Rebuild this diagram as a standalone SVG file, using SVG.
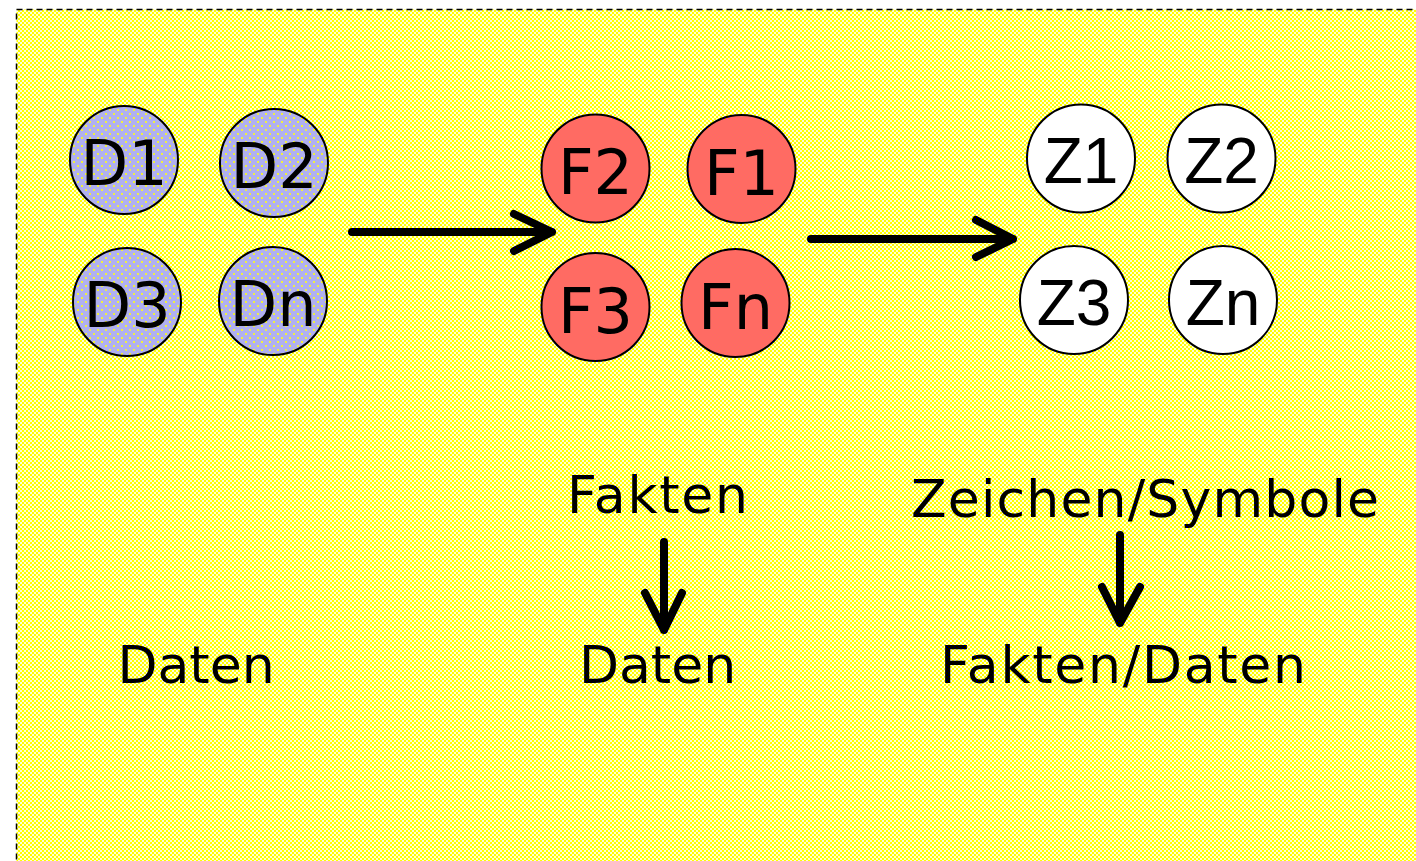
<svg xmlns="http://www.w3.org/2000/svg" width="1416" height="861" viewBox="0 0 1416 861">
<defs>
<pattern id="bg" width="4" height="4" patternUnits="userSpaceOnUse">
<rect width="4" height="4" fill="#ffffd8"/>
<rect x="0" y="0" width="2" height="2" fill="#ffff00"/>
<rect x="2" y="2" width="2" height="2" fill="#ffff00"/>
</pattern>
<pattern id="dots" width="8" height="8" patternUnits="userSpaceOnUse">
<rect width="8" height="8" fill="#b0b0f0"/>
<rect x="1" y="1" width="2" height="2" fill="#f0f040"/>
<rect x="5" y="5" width="2" height="2" fill="#f0f040"/>
</pattern>
</defs>
<style>
.n circle{stroke:#000;stroke-width:2}
.d circle{fill:url(#dots)}
.f circle{fill:#ff6b63}
.z circle{fill:#fff}
.lbl{font-family:"DejaVu Sans",Verdana,sans-serif;font-size:62px;text-anchor:middle;fill:#000}
.zl{font-family:"Liberation Sans",Arial,sans-serif;font-size:64px;text-anchor:middle;fill:#000}
.cap{font-family:"DejaVu Sans",Verdana,sans-serif;font-size:52px;text-anchor:middle;fill:#000}
.arr{fill:none;stroke:#000;stroke-width:8;stroke-linecap:round;stroke-linejoin:round}
</style>
<rect x="16.5" y="9.5" width="1420" height="870" fill="url(#bg)" stroke="#000" stroke-width="1.5" stroke-dasharray="6 4"/>

<g id="D1" class="n d"><circle cx="124" cy="160" r="54"/><text class="lbl" x="124" y="185">D1</text></g>
<g id="D2" class="n d"><circle cx="274" cy="163" r="54"/><text class="lbl" x="274" y="188">D2</text></g>
<g id="D3" class="n d"><circle cx="127" cy="302" r="54"/><text class="lbl" x="127" y="327">D3</text></g>
<g id="Dn" class="n d"><circle cx="273" cy="301" r="54"/><text class="lbl" x="273" y="326">Dn</text></g>

<g id="F2" class="n f"><circle cx="595.5" cy="168.5" r="54"/><text class="lbl" x="595.5" y="194">F2</text></g>
<g id="F1" class="n f"><circle cx="741.5" cy="169" r="54"/><text class="lbl" x="741.5" y="194.5">F1</text></g>
<g id="F3" class="n f"><circle cx="595.5" cy="307" r="54"/><text class="lbl" x="595.5" y="332.5">F3</text></g>
<g id="Fn" class="n f"><circle cx="735.5" cy="303" r="54"/><text class="lbl" x="735.5" y="328.5">Fn</text></g>

<g id="Z1" class="n z"><circle cx="1081" cy="158.5" r="54"/><text class="zl" x="1081" y="183">Z1</text></g>
<g id="Z2" class="n z"><circle cx="1221.5" cy="158.5" r="54"/><text class="zl" x="1221.5" y="183">Z2</text></g>
<g id="Z3" class="n z"><circle cx="1074" cy="300" r="54"/><text class="zl" x="1074" y="324.5">Z3</text></g>
<g id="Zn" class="n z"><circle cx="1223" cy="300" r="54"/><text class="zl" x="1223" y="324.5">Zn</text></g>

<g id="labels">
<text class="cap" x="196" y="683">Daten</text>
<text class="cap" x="657.5" y="513" textLength="181" lengthAdjust="spacing">Fakten</text>
<text class="cap" x="657.5" y="683">Daten</text>
<text class="cap" x="1145" y="517" textLength="468" lengthAdjust="spacing">Zeichen/Symbole</text>
<text class="cap" x="1123" y="683" textLength="366" lengthAdjust="spacing">Fakten/Daten</text>
</g>

<g id="connectors">
<path class="arr" d="M352 232 H552 M514 214 L552 232 L514 251"/>
<path class="arr" d="M811 239 H1013 M976 220 L1013 239 L976 257"/>
<path class="arr" d="M664 542 V630 M645 593 L664 630 L682 593"/>
<path class="arr" d="M1120 535 V623 M1102 587 L1120 623 L1140 587"/>
</g>
</svg>
